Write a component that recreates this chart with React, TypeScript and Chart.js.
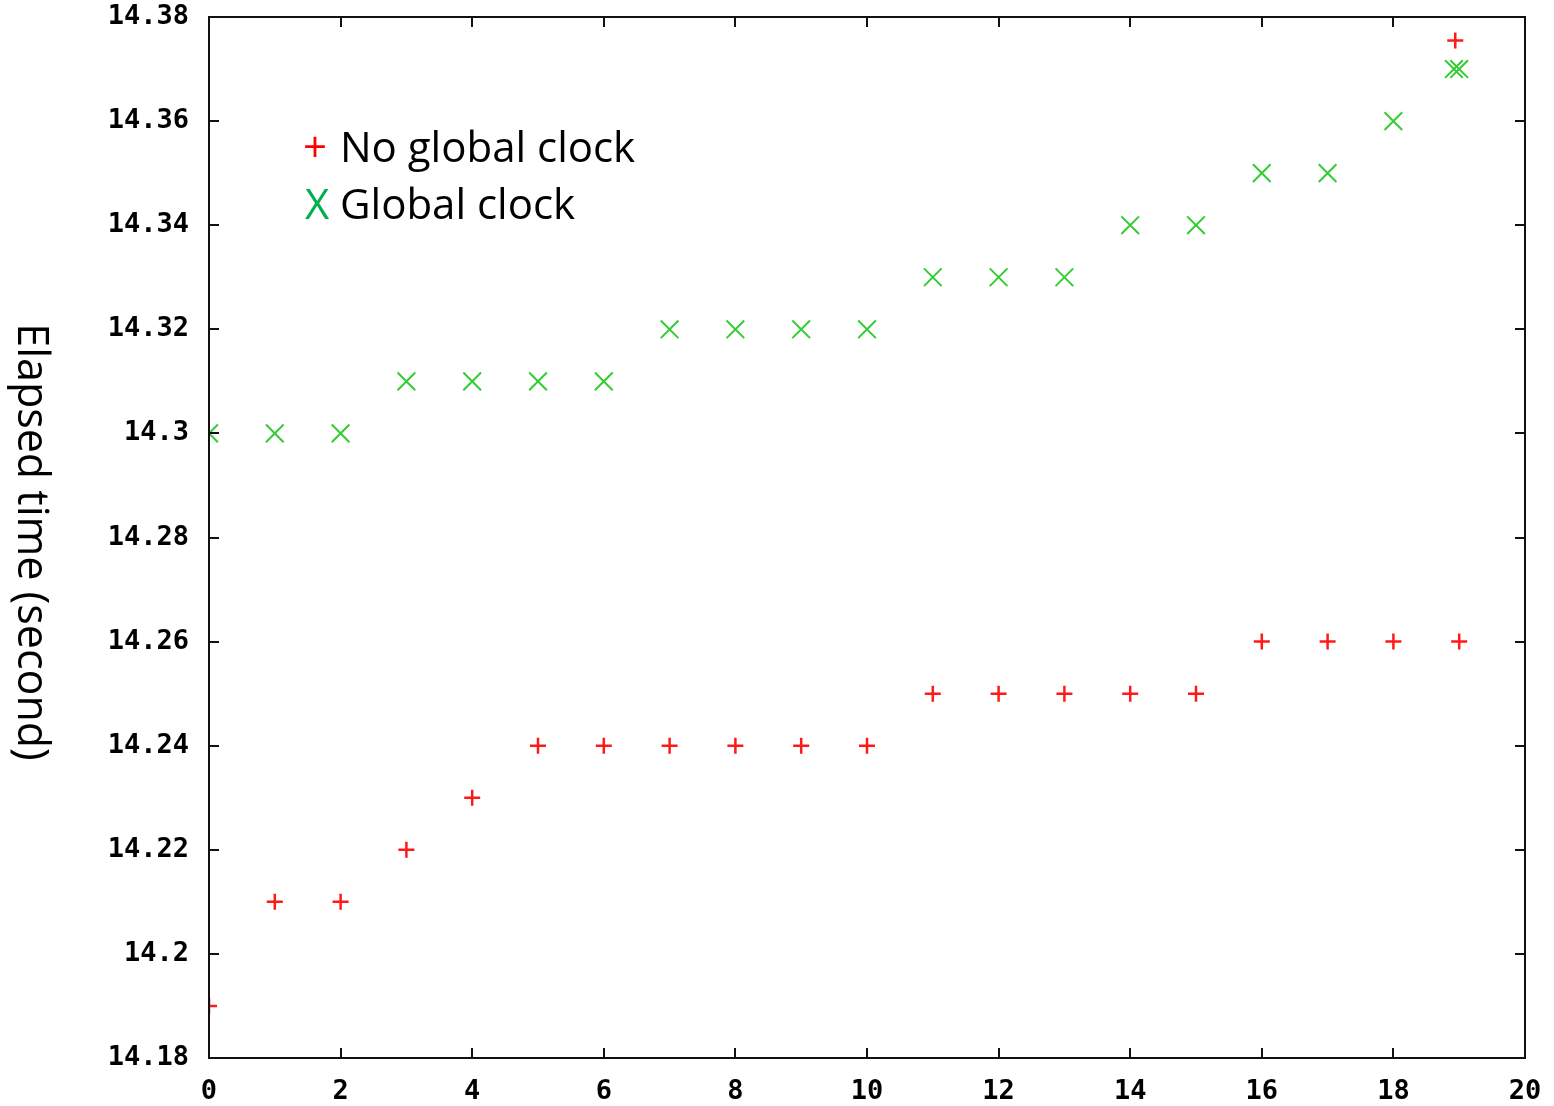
import React, { useEffect, useRef } from "react";
import { Chart, registerables } from "chart.js";

Chart.register(...registerables);

const xValues = [0, 1, 2, 3, 4, 5, 6, 7, 8, 9, 10, 11, 12, 13, 14, 15, 16, 17, 18, 19];
const noGlobalClock = [14.19, 14.21, 14.21, 14.22, 14.23, 14.24, 14.24, 14.24, 14.24, 14.24, 14.24, 14.25, 14.25, 14.25, 14.25, 14.25, 14.26, 14.26, 14.26, 14.26];
const globalClock = [14.3, 14.3, 14.3, 14.31, 14.31, 14.31, 14.31, 14.32, 14.32, 14.32, 14.32, 14.33, 14.33, 14.33, 14.34, 14.34, 14.35, 14.35, 14.36, 14.37];
// stray overlay markers near the top-right corner
const extraNoGlobalX = [18.94];
const extraNoGlobalY = [14.3755];
const extraGlobalX = [18.92];
const extraGlobalY = [14.37];

const xTickValues = [0, 2, 4, 6, 8, 10, 12, 14, 16, 18, 20];
const yTickValues = [14.18, 14.2, 14.22, 14.24, 14.26, 14.28, 14.3, 14.32, 14.34, 14.36, 14.38];
const legendLabels = ["No global clock", "Global clock"];
const yTitle = "Elapsed time (second)";

const fmtY = (v: number) => {
  let s = v.toFixed(2);
  s = s.replace(/0+$/, "").replace(/\.$/, "");
  return s;
};

const framePlugin = {
  id: "framePlugin",
  afterDraw(chart: any) {
    const { ctx, chartArea } = chart;
    const { left, right, top, bottom } = chartArea;
    const xs = chart.scales.x;
    const ys = chart.scales.y;
    ctx.save();
    ctx.strokeStyle = "#111";
    ctx.lineWidth = 2;
    ctx.strokeRect(left, top, right - left, bottom - top);
    const tl = 10;
    ctx.beginPath();
    xTickValues.forEach((v) => {
      const px = Math.round(xs.getPixelForValue(v));
      ctx.moveTo(px, bottom);
      ctx.lineTo(px, bottom - tl);
      ctx.moveTo(px, top);
      ctx.lineTo(px, top + tl);
    });
    yTickValues.forEach((v) => {
      const py = Math.round(ys.getPixelForValue(v));
      ctx.moveTo(left, py);
      ctx.lineTo(left + tl, py);
      ctx.moveTo(right, py);
      ctx.lineTo(right - tl, py);
    });
    ctx.stroke();

    // legend
    ctx.textBaseline = "alphabetic";
    ctx.textAlign = "left";
    ctx.font = "42px 'Open Sans', Lato, sans-serif";
    ctx.fillStyle = "#ff0000";
    ctx.fillText("+", 303, 162);
    ctx.fillStyle = "#000";
    ctx.fillText(legendLabels[0], 340, 162);
    ctx.fillStyle = "#00b050";
    ctx.fillText("X", 305, 219);
    ctx.fillStyle = "#000";
    ctx.fillText(legendLabels[1], 340, 219);

    // y title rotated (reads top to bottom)
    ctx.save();
    ctx.translate(30, 542);
    ctx.rotate(Math.PI / 2);
    ctx.textAlign = "center";
    ctx.textBaseline = "middle";
    ctx.font = "43px 'Open Sans', Lato, sans-serif";
    ctx.fillStyle = "#000";
    ctx.fillText(yTitle, 0, 0);
    ctx.restore();
    ctx.restore();
  },
};

export default function App() {
  const ref = useRef<HTMLCanvasElement>(null);
  useEffect(() => {
    document.body.style.margin = "0";
    const toPts = (xa: number[], ya: number[]) => xa.map((x, i) => ({ x, y: ya[i] }));
    const chart = new Chart(ref.current!, {
      type: "scatter",
      data: {
        datasets: [
          {
            label: legendLabels[0],
            data: [...toPts(xValues, noGlobalClock), ...toPts(extraNoGlobalX, extraNoGlobalY)],
            pointStyle: "cross",
            radius: 8,
            borderColor: "#ff1a1a",
            backgroundColor: "#ff1a1a",
            borderWidth: 2.5,
          },
          {
            label: legendLabels[1],
            data: [...toPts(xValues, globalClock), ...toPts(extraGlobalX, extraGlobalY)],
            pointStyle: "crossRot",
            radius: 12.5,
            borderColor: "#33cc33",
            backgroundColor: "#33cc33",
            borderWidth: 2,
          },
        ],
      },
      options: {
        animation: false,
        responsive: false,
        maintainAspectRatio: false,
        layout: { padding: { top: 17, right: 29, left: 0, bottom: 0 } },
        plugins: { legend: { display: false }, tooltip: { enabled: false } },
        scales: {
          x: {
            type: "linear",
            min: 0,
            max: 20,
            grid: { display: false },
            border: { display: false },
            afterBuildTicks: (s: any) => {
              s.ticks = xTickValues.map((v) => ({ value: v }));
            },
            afterFit: (s: any) => {
              s.height = 48;
            },
            ticks: {
              padding: 10,
              color: "#000",
              font: { family: "'DejaVu Sans Mono', monospace", size: 27, weight: "bold" },
              callback: (v: any) => String(v),
            },
          },
          y: {
            type: "linear",
            min: 14.18,
            max: 14.38,
            grid: { display: false },
            border: { display: false },
            afterBuildTicks: (s: any) => {
              s.ticks = yTickValues.map((v) => ({ value: v }));
            },
            afterFit: (s: any) => {
              s.width = 209;
              s.paddingTop = 0;
              s.paddingBottom = 0;
            },
            ticks: {
              padding: 12,
              color: "#000",
              font: { family: "'DejaVu Sans Mono', monospace", size: 27, weight: "bold", lineHeight: 0.4 },
              callback: (v: any) => fmtY(Number(v)),
            },
          },
        },
      },
      plugins: [framePlugin],
    });
    return () => chart.destroy();
  }, []);
  return (
    <div style={{ position: "absolute", left: 0, top: 0, width: 1554, height: 1106, background: "#fff" }}>
      <canvas ref={ref} width={1554} height={1106} style={{ width: 1554, height: 1106 }} />
    </div>
  );
}
